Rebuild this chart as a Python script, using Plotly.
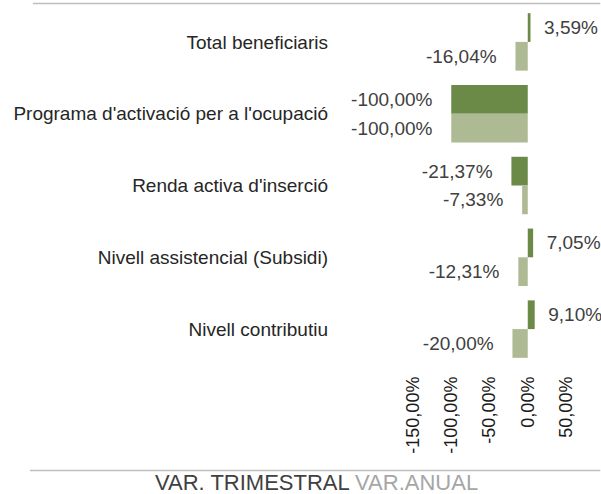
import plotly.graph_objects as go

categories = [
    "Total beneficiaris",
    "Programa d'activació per a l'ocupació",
    "Renda activa d'inserció",
    "Nivell assistencial (Subsidi)",
    "Nivell contributiu",
]
series_names = ["VAR. TRIMESTRAL", "VAR.ANUAL"]
var_trimestral = [3.59, -100.00, -21.37, 7.05, 9.10]
var_anual = [-16.04, -100.00, -7.33, -12.31, -20.00]
x_ticks = [-150, -100, -50, 0, 50]

W, H = 601, 494
PL, PR = 412.5, 566.5   # plot area pixel edges (x)
PT, PB = 6, 365         # plot area pixel edges (y)

dark = "#6B8A47"
light = "#AEBA93"
FONT = "Liberation Sans, Arial, sans-serif"
NB = "\u00a0"


def fmt(v):
    return f"{v:.2f}".replace(".", ",") + "%"


def labels(vals):
    return [NB * 2 + fmt(v) if v >= 0 else fmt(v) + NB * 3 for v in vals]


fig = go.Figure()
for name, vals, col in [(series_names[0], var_trimestral, dark),
                        (series_names[1], var_anual, light)]:
    fig.add_trace(go.Bar(
        y=categories, x=vals, name=name, orientation="h",
        marker=dict(color=col, line=dict(width=0)),
        text=labels(vals), textposition="outside",
        textfont=dict(family=FONT, size=19, color="#404040"),
        cliponaxis=False, constraintext="none",
        showlegend=False, hoverinfo="skip",
    ))

px_x = lambda p: (p - PL) / (PR - PL)
px_y = lambda p: (PB - p) / (PB - PT)

fig.update_layout(
    width=W, height=H,
    margin=dict(l=PL, r=W - PR, t=PT, b=H - PB, pad=0, autoexpand=False),
    paper_bgcolor="white", plot_bgcolor="white",
    barmode="group", bargap=0.2, bargroupgap=0,
    font=dict(family=FONT, size=19, color="#262626"),
    xaxis=dict(range=[-150, 50], tickvals=x_ticks,
               ticktext=[fmt(v) for v in x_ticks], tickangle=-90,
               showgrid=False, zeroline=False, showline=False, ticks="",
               automargin=False, ticklabelstandoff=7,
               tickfont=dict(size=18, color="#1a1a1a"), fixedrange=True),
    yaxis=dict(autorange="reversed", showgrid=False, zeroline=False,
               showline=False, ticks="", ticklabelstandoff=84,
               automargin=False,
               tickfont=dict(size=19, color="#262626"), fixedrange=True),
    shapes=[
        dict(type="line", xref="paper", yref="paper", x0=px_x(30), x1=px_x(601),
             y0=px_y(3.5), y1=px_y(3.5), line=dict(color="#BFBFBF", width=1.5)),
        dict(type="line", xref="paper", yref="paper", x0=px_x(27), x1=px_x(601),
             y0=px_y(470.5), y1=px_y(470.5), line=dict(color="#BFBFBF", width=1.5)),
    ],
    annotations=[
        dict(xref="paper", yref="paper", x=px_x(315), y=px_y(482),
             xanchor="center", yanchor="middle", showarrow=False,
             text=series_names[0] + " <span style='color:#A6A6A6'>" + series_names[1] + "</span>",
             font=dict(family=FONT, size=22, color="#404040")),
    ],
)

fig.write_html(
    "out.html",
    config={"displayModeBar": False, "staticPlot": True},
    post_script="document.body.style.margin='0';document.body.style.overflow='hidden';",
)
